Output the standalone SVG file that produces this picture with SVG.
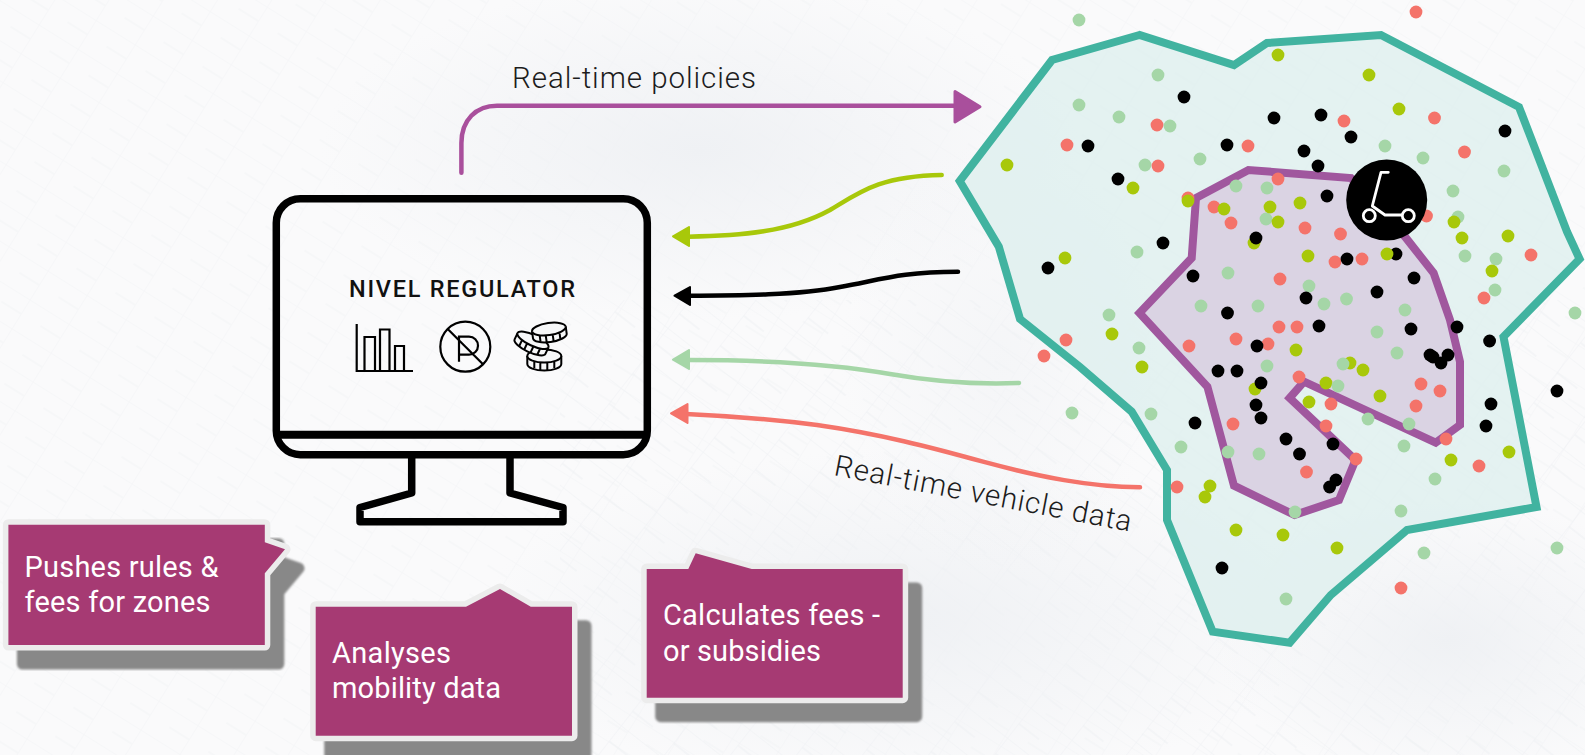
<svg xmlns="http://www.w3.org/2000/svg" width="1585" height="755" viewBox="0 0 1585 755">
<style>
text{font-family:Roboto,"Liberation Sans",sans-serif}
.g{fill:#a5d6a7}.r{fill:#f4736a}.l{fill:#a8c80a}.k{fill:#000}
.conn{fill:none;stroke-width:4.5;stroke-linecap:round}
.lbl{font-weight:300;font-size:29.5px;fill:#1c1c1c}
.box{fill:#a63a73;stroke:#ececec;stroke-width:11;stroke-linejoin:round;paint-order:stroke}
.shadow{fill:#888;stroke:#888;stroke-width:11;stroke-linejoin:round;filter:url(#soft)}
.cap{font-size:29px;fill:#fff}
.mon{fill:none;stroke:#000;stroke-width:7.5;stroke-linejoin:round}
.ico{fill:none;stroke:#000;stroke-width:2.2}
.coin{fill:#f6f7f8;stroke:#000;stroke-width:2;stroke-linejoin:round}
</style>
<defs>
<filter id="soft" x="-5%" y="-5%" width="110%" height="110%"><feGaussianBlur stdDeviation="1"/></filter>
<radialGradient id="blot"><stop offset="0" stop-color="#eff1f4"/><stop offset="1" stop-color="#eff1f4" stop-opacity="0"/></radialGradient>
<pattern id="st1" width="46" height="34" patternUnits="userSpaceOnUse" patternTransform="rotate(32)"><path d="M0 0H46M0 0V34M23 17H46" fill="none" stroke="#eceef1" stroke-width="1.6"/></pattern>
<pattern id="st2" width="38" height="52" patternUnits="userSpaceOnUse" patternTransform="rotate(-52)"><path d="M0 0H38M0 0V52M19 0V26" fill="none" stroke="#eef0f3" stroke-width="1.6"/></pattern>
</defs>
<g id="background">
<rect width="1585" height="755" fill="#fafafb"/>
<rect width="1585" height="755" fill="url(#st1)" opacity=".35"/>
<rect x="560" y="300" width="1025" height="455" fill="url(#st2)" opacity=".6"/>
<ellipse cx="700" cy="150" rx="380" ry="170" fill="url(#blot)"/>
<ellipse cx="900" cy="620" rx="420" ry="170" fill="url(#blot)"/>
<ellipse cx="1450" cy="640" rx="240" ry="140" fill="url(#blot)"/>
<ellipse cx="1000" cy="360" rx="160" ry="220" fill="url(#blot)" opacity=".5"/>
</g>
<g id="zone-outer"><path d="M1139.5,35 1052,60 959.7,181 998.8,246.7 1020,319 1080,367 1131.7,411.7 1167,470 1167,520 1212.7,631.7 1289.7,642.7 1330.8,595 1407,530 1536.5,507 1503.5,336.7 1579.6,259 1567,231.7 1519,107 1381,35 1267,43 1234,65Z" fill="#dff0ee" fill-opacity=".85" stroke="#41b3a0" stroke-width="8" stroke-linejoin="miter"/></g>
<g id="zone-inner"><path d="M1248.5,170 1196,198 1191.7,258 1139.5,313 1207.4,386.7 1234,485.7 1294.6,515 1339,500 1355.5,460 1289.6,398 1304,381.7 1435.7,442.7 1460,425 1460,361.7 1450,320 1433.6,273 1405,236.7 1351,178Z" fill="#d9d1e1" fill-opacity=".95" stroke="#a0579e" stroke-width="8" stroke-linejoin="miter"/></g>
<g id="vehicles">
<circle class="g" cx="1079" cy="20" r="6.4"/><circle class="g" cx="1158" cy="75" r="6.4"/><circle class="g" cx="1079" cy="105" r="6.4"/><circle class="g" cx="1119" cy="117" r="6.4"/><circle class="g" cx="1170" cy="126" r="6.4"/><circle class="g" cx="1200" cy="159" r="6.4"/><circle class="g" cx="1145" cy="165" r="6.4"/><circle class="g" cx="1385" cy="146" r="6.4"/><circle class="g" cx="1423" cy="158" r="6.4"/><circle class="g" cx="1504" cy="171" r="6.4"/><circle class="g" cx="1453" cy="191" r="6.4"/><circle class="g" cx="1458" cy="217" r="6.4"/><circle class="g" cx="1236" cy="186" r="6.4"/><circle class="g" cx="1267" cy="188" r="6.4"/><circle class="g" cx="1266" cy="219" r="6.4"/><circle class="g" cx="1137" cy="252" r="6.4"/><circle class="g" cx="1228" cy="273" r="6.4"/><circle class="g" cx="1309" cy="286" r="6.4"/><circle class="g" cx="1346.5" cy="299" r="6.4"/><circle class="g" cx="1324" cy="304" r="6.4"/><circle class="g" cx="1258" cy="306" r="6.4"/><circle class="g" cx="1201" cy="306" r="6.4"/><circle class="g" cx="1109" cy="315" r="6.4"/><circle class="g" cx="1405" cy="310" r="6.4"/><circle class="g" cx="1465" cy="256" r="6.4"/><circle class="g" cx="1496" cy="259" r="6.4"/><circle class="g" cx="1495" cy="290" r="6.4"/><circle class="g" cx="1575" cy="313" r="6.4"/><circle class="g" cx="1377" cy="332" r="6.4"/><circle class="g" cx="1139" cy="348" r="6.4"/><circle class="g" cx="1267" cy="366" r="6.4"/><circle class="g" cx="1397" cy="353" r="6.4"/><circle class="g" cx="1072" cy="413" r="6.4"/><circle class="g" cx="1151" cy="414" r="6.4"/><circle class="g" cx="1368" cy="419" r="6.4"/><circle class="g" cx="1409" cy="424" r="6.4"/><circle class="g" cx="1404" cy="446" r="6.4"/><circle class="g" cx="1228" cy="452" r="6.4"/><circle class="g" cx="1259" cy="454" r="6.4"/><circle class="g" cx="1181" cy="447" r="6.4"/><circle class="g" cx="1435" cy="479" r="6.4"/><circle class="g" cx="1295" cy="512" r="6.4"/><circle class="g" cx="1401" cy="511" r="6.4"/><circle class="g" cx="1424" cy="553" r="6.4"/><circle class="g" cx="1557" cy="548" r="6.4"/><circle class="g" cx="1286" cy="599" r="6.4"/>
<circle class="r" cx="1416" cy="12" r="6.4"/><circle class="r" cx="1157" cy="125" r="6.4"/><circle class="r" cx="1067" cy="145" r="6.4"/><circle class="r" cx="1248" cy="146" r="6.4"/><circle class="r" cx="1158" cy="166" r="6.4"/><circle class="r" cx="1344" cy="121" r="6.4"/><circle class="r" cx="1434.5" cy="118" r="6.4"/><circle class="r" cx="1464.5" cy="152" r="6.4"/><circle class="r" cx="1278" cy="179" r="6.4"/><circle class="r" cx="1188" cy="198" r="6.4"/><circle class="r" cx="1214" cy="207" r="6.4"/><circle class="r" cx="1231" cy="223" r="6.4"/><circle class="r" cx="1305" cy="228" r="6.4"/><circle class="r" cx="1340.5" cy="234" r="6.4"/><circle class="r" cx="1426.5" cy="216" r="6.4"/><circle class="r" cx="1531" cy="255" r="6.4"/><circle class="r" cx="1335" cy="262" r="6.4"/><circle class="r" cx="1362" cy="259" r="6.4"/><circle class="r" cx="1280" cy="279" r="6.4"/><circle class="r" cx="1484" cy="298" r="6.4"/><circle class="r" cx="1279" cy="327" r="6.4"/><circle class="r" cx="1297" cy="327" r="6.4"/><circle class="r" cx="1236" cy="339" r="6.4"/><circle class="r" cx="1268" cy="344" r="6.4"/><circle class="r" cx="1189" cy="346" r="6.4"/><circle class="r" cx="1066" cy="340" r="6.4"/><circle class="r" cx="1044" cy="356" r="6.4"/><circle class="r" cx="1299" cy="377" r="6.4"/><circle class="r" cx="1421" cy="384" r="6.4"/><circle class="r" cx="1440" cy="391" r="6.4"/><circle class="r" cx="1331" cy="404" r="6.4"/><circle class="r" cx="1416" cy="406" r="6.4"/><circle class="r" cx="1233" cy="424" r="6.4"/><circle class="r" cx="1326" cy="426" r="6.4"/><circle class="r" cx="1446" cy="439" r="6.4"/><circle class="r" cx="1356" cy="459" r="6.4"/><circle class="r" cx="1479" cy="466" r="6.4"/><circle class="r" cx="1306.5" cy="472" r="6.4"/><circle class="r" cx="1177" cy="487" r="6.4"/><circle class="r" cx="1401" cy="588" r="6.4"/>
<circle class="l" cx="1350" cy="363" r="6.4"/><circle class="g" cx="1343" cy="364" r="6.4"/><circle class="l" cx="1278" cy="55" r="6.4"/><circle class="l" cx="1369" cy="75" r="6.4"/><circle class="l" cx="1399" cy="109" r="6.4"/><circle class="l" cx="1007" cy="165" r="6.4"/><circle class="l" cx="1133" cy="188" r="6.4"/><circle class="l" cx="1188" cy="201" r="6.4"/><circle class="l" cx="1224" cy="209" r="6.4"/><circle class="l" cx="1270" cy="207" r="6.4"/><circle class="l" cx="1300" cy="203" r="6.4"/><circle class="l" cx="1278" cy="222" r="6.4"/><circle class="l" cx="1454" cy="222" r="6.4"/><circle class="l" cx="1462" cy="238" r="6.4"/><circle class="l" cx="1508" cy="236" r="6.4"/><circle class="l" cx="1254" cy="243" r="6.4"/><circle class="l" cx="1308" cy="256" r="6.4"/><circle class="l" cx="1492" cy="271" r="6.4"/><circle class="l" cx="1065" cy="258" r="6.4"/><circle class="l" cx="1112" cy="334" r="6.4"/><circle class="l" cx="1296" cy="350" r="6.4"/><circle class="l" cx="1142" cy="367" r="6.4"/><circle class="l" cx="1363" cy="370" r="6.4"/><circle class="l" cx="1255" cy="389" r="6.4"/><circle class="l" cx="1326" cy="383" r="6.4"/><circle class="l" cx="1309" cy="402" r="6.4"/><circle class="l" cx="1380" cy="396" r="6.4"/><circle class="l" cx="1509" cy="452" r="6.4"/><circle class="l" cx="1451" cy="460" r="6.4"/><circle class="l" cx="1210" cy="486" r="6.4"/><circle class="l" cx="1205" cy="497" r="6.4"/><circle class="l" cx="1236" cy="530" r="6.4"/><circle class="l" cx="1283" cy="535" r="6.4"/><circle class="l" cx="1337" cy="548" r="6.4"/>
<circle class="g" cx="1338" cy="386" r="6.4"/>
<circle class="k" cx="1184" cy="97" r="6.4"/><circle class="k" cx="1274" cy="118" r="6.4"/><circle class="k" cx="1321" cy="115" r="6.4"/><circle class="k" cx="1351" cy="137" r="6.4"/><circle class="k" cx="1505" cy="131" r="6.4"/><circle class="k" cx="1227" cy="145" r="6.4"/><circle class="k" cx="1088" cy="146" r="6.4"/><circle class="k" cx="1304" cy="151" r="6.4"/><circle class="k" cx="1318" cy="166" r="6.4"/><circle class="k" cx="1118" cy="179" r="6.4"/><circle class="k" cx="1327" cy="196" r="6.4"/><circle class="k" cx="1256" cy="238" r="6.4"/><circle class="k" cx="1163" cy="243" r="6.4"/><circle class="k" cx="1048" cy="268" r="6.4"/><circle class="k" cx="1347" cy="259" r="6.4"/><circle class="k" cx="1396" cy="254" r="6.4"/><circle class="l" cx="1387" cy="254" r="6.4"/><circle class="k" cx="1414" cy="278" r="6.4"/><circle class="k" cx="1193" cy="276" r="6.4"/><circle class="k" cx="1377" cy="292" r="6.4"/><circle class="k" cx="1306" cy="298" r="6.4"/><circle class="k" cx="1227.5" cy="313" r="6.4"/><circle class="k" cx="1319" cy="326" r="6.4"/><circle class="k" cx="1411" cy="329" r="6.4"/><circle class="k" cx="1457" cy="327" r="6.4"/><circle class="k" cx="1489.6" cy="341" r="6.4"/><circle class="k" cx="1257" cy="346" r="6.4"/><circle class="k" cx="1430" cy="355" r="6.4"/><circle class="k" cx="1433" cy="357" r="6.4"/><circle class="k" cx="1448" cy="355" r="6.4"/><circle class="k" cx="1441" cy="363" r="6.4"/><circle class="k" cx="1218" cy="371" r="6.4"/><circle class="k" cx="1237" cy="371" r="6.4"/><circle class="k" cx="1261" cy="383" r="6.4"/><circle class="k" cx="1256" cy="405" r="6.4"/><circle class="k" cx="1261" cy="418" r="6.4"/><circle class="k" cx="1491" cy="404" r="6.4"/><circle class="k" cx="1557" cy="391" r="6.4"/><circle class="k" cx="1486" cy="426" r="6.4"/><circle class="k" cx="1195" cy="423" r="6.4"/><circle class="k" cx="1286" cy="439" r="6.4"/><circle class="k" cx="1333" cy="444" r="6.4"/><circle class="k" cx="1299.5" cy="454" r="6.4"/><circle class="k" cx="1336" cy="480" r="6.4"/><circle class="k" cx="1329.6" cy="487" r="6.4"/><circle class="k" cx="1222" cy="568" r="6.4"/>
</g>
<g id="scooter">
<circle cx="1386.7" cy="200" r="40.5" fill="#000"/>
<g fill="none" stroke="#fff" stroke-width="2.8" stroke-linecap="round" stroke-linejoin="round"><path d="M1388.3,172.3H1381L1372.3,206L1385,215H1401.7"/><circle cx="1369.3" cy="215.7" r="6"/><circle cx="1408.3" cy="215.7" r="6"/></g>
</g>
<g id="connectors">
<path class="conn" stroke="#a94f9c" stroke-width="5" d="M461.4,172.7V143C461.4,120 476,105.7 497,105.7H956"/>
<path fill="#a94f9c" stroke="#a94f9c" stroke-width="3" stroke-linejoin="round" d="M955,91.5 980,106.7 955,122Z"/>
<path class="conn" stroke="#a8c80a" d="M941.7,175C880,176 860,192 830,210C790,232 740,236 688,236.7"/>
<path fill="#a8c80a" stroke="#a8c80a" stroke-width="2" stroke-linejoin="round" d="M689,227 673,236.3 689,246Z"/>
<path class="conn" stroke="#000" d="M958,271.7C900,272 880,280 840,287C800,295 740,295.7 688,295.7"/>
<path fill="#000" stroke="#000" stroke-width="2" stroke-linejoin="round" d="M690,287 674.5,295.7 690,305Z"/>
<path class="conn" stroke="#a5d6a7" d="M1019,383C970,385 930,381 890,374C840,365 770,360 688,360"/>
<path fill="#a5d6a7" stroke="#a5d6a7" stroke-width="2" stroke-linejoin="round" d="M689,350 673,359.7 689,369Z"/>
<path class="conn" stroke="#f4736a" d="M1140,487.3C1090,487 1040,477 983,461.7C930,447 880,434 817,425C770,419 730,416 686,414"/>
<path fill="#f4736a" stroke="#f4736a" stroke-width="2" stroke-linejoin="round" d="M687.5,404 671,413.3 687.5,423Z"/>
</g>
<g id="label-policies"><text class="lbl" x="512" y="87.5" textLength="244">Real-time policies</text></g>
<g id="label-vehicle-data"><text class="lbl" transform="translate(833,475) rotate(10.8)" textLength="302">Real-time vehicle data</text></g>
<g id="monitor">
<rect class="mon" x="276.3" y="198.7" width="371" height="256" rx="24"/>
<path d="M276,434.7H647" fill="none" stroke="#000" stroke-width="8"/>
<path class="mon" stroke-width="6.5" d="M411.7,455V493L360,507.5V521.7H563V507.5L510,493V455"/>
<text x="349" y="296.7" font-size="23.5" font-weight="500" fill="#111" textLength="226">NIVEL REGULATOR</text>
<path class="ico" d="M356.7,324V371H413M364.5,371V337H375V371M380,371V329.5H389.5V371M395,371V346H404V371"/>
<circle class="ico" stroke-width="2.6" cx="465.3" cy="346.7" r="25"/>
<path class="ico" stroke-width="2.6" d="M447.7,329 483,364.3M459,361.7V336.7H469A9,9 0 0 1 469,354.7H459"/>
<g transform="translate(544.3,359)"><path class="coin" d="M-17,-3A17,6.5 0 0 1 17,-3V5A17,6.5 0 0 1 -17,5Z"/><path class="coin" fill="none" d="M-17,-3A17,6.5 0 0 0 17,-3M-10,3V9M-4,4V11M3,4V11M10,3V9"/></g>
<g transform="translate(531.7,343) rotate(25)"><path class="coin" d="M-17,-3A17,5.5 0 0 1 17,-3V4A17,5.5 0 0 1 -17,4Z"/><path class="coin" fill="none" d="M-17,-3A17,5.5 0 0 0 17,-3M-10,2V8M-4,3V9M3,3V9M10,2V8"/></g>
<g transform="translate(549.3,332) rotate(-8)"><path class="coin" d="M-17,-3A17,6 0 0 1 17,-3V4A17,6 0 0 1 -17,4Z"/><path class="coin" fill="none" d="M-17,-3A17,6 0 0 0 17,-3M-10,2V8M-4,3V10M3,3V10M10,2V8"/></g>
</g>
<g id="callout-pushes">
<path class="shadow" transform="translate(14,19)" d="M8.4,524.7H264.8V542.3L285,549.3 264.8,573.3V645H8.4Z"/>
<path class="box" d="M8.4,524.7H264.8V542.3L285,549.3 264.8,573.3V645H8.4Z"/>
<text class="cap" x="24.5" y="576.7" textLength="194">Pushes rules &amp;</text>
<text class="cap" x="24.5" y="612.3" textLength="186">fees for zones</text>
</g>
<g id="callout-analyses">
<path class="shadow" transform="translate(14,19)" d="M315.7,606.7H466L500,589 530.8,606.7H572V735.7H315.7Z"/>
<path class="box" d="M315.7,606.7H466L500,589 530.8,606.7H572V735.7H315.7Z"/>
<text class="cap" x="332" y="662.7" textLength="119">Analyses</text>
<text class="cap" x="332" y="698.3" textLength="169">mobility data</text>
</g>
<g id="callout-calculates">
<path class="shadow" transform="translate(14,19)" d="M646.7,569H688.3L695.7,553.3 751.7,569H902.7V697.7H646.7Z"/>
<path class="box" d="M646.7,569H688.3L695.7,553.3 751.7,569H902.7V697.7H646.7Z"/>
<text class="cap" x="663" y="625" textLength="217">Calculates fees -</text>
<text class="cap" x="663" y="660.7" textLength="158">or subsidies</text>
</g>
</svg>
